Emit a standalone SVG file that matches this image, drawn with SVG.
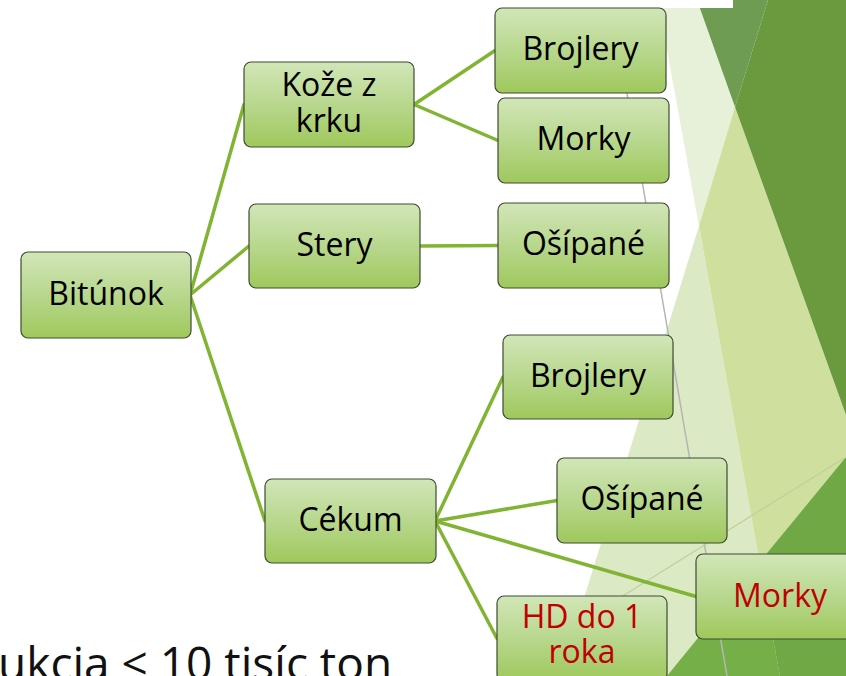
<svg xmlns="http://www.w3.org/2000/svg" width="846" height="676" viewBox="0 0 846 676">
<defs>
<linearGradient id="ng" x1="0" y1="0" x2="0" y2="1">
<stop offset="0" stop-color="#d2e6b8"/>
<stop offset="0.5" stop-color="#b8d78e"/>
<stop offset="1" stop-color="#9fc85c"/>
</linearGradient>
</defs>
<style>
.node rect{fill:url(#ng);stroke:#3d4c30;stroke-width:1.2}
.node text{font-family:"Open Sans","DejaVu Sans",sans-serif;font-size:32px;text-anchor:middle;fill:#000}
.node text.red{fill:#c00000}
#connectors line{stroke:#80b432;stroke-width:3.5;stroke-linecap:round}
</style>
<rect width="846" height="676" fill="#ffffff"/>
<g id="background">
<polygon points="658,0 697,0 735,107 699,226" fill="#e7f0d9"/>
<polygon points="699,226 560,676 780,676" fill="#dce9c5"/>
<polygon points="735,107 699,226 780,676 846,676 846,415" fill="#cfe09e"/>
<polygon points="697,0 768,0 735,107" fill="#6d9c52"/>
<polygon points="768,0 846,0 846,415 735,107" fill="#6a993e"/>
<polygon points="759,563 667,676 780,676" fill="#75af48"/>
<polygon points="759,563 846,457 846,676 780,676" fill="#70a845"/>
<line x1="611" y1="0" x2="727" y2="676" stroke="#b5b5b5" stroke-width="1.5"/>
<line x1="846" y1="457" x2="560" y2="635" stroke="#bfd09c" stroke-width="1.3"/>
<rect x="0" y="0" width="733" height="8" fill="#ffffff"/>
</g>
<text x="-2" y="680" font-family="'Open Sans','DejaVu Sans',sans-serif" font-size="46" fill="#111">ukcia &lt; 10 tisíc ton</text>
<g id="connectors">
<line x1="190" y1="295" x2="244" y2="104.5"/>
<line x1="190" y1="295" x2="249" y2="246"/>
<line x1="190" y1="295" x2="265" y2="521"/>
<line x1="414" y1="104.5" x2="495" y2="50.5"/>
<line x1="414" y1="104.5" x2="498" y2="140.5"/>
<line x1="420" y1="246" x2="498" y2="245.5"/>
<line x1="435" y1="521" x2="503" y2="377"/>
<line x1="435" y1="521" x2="557" y2="500.5"/>
<line x1="435" y1="521" x2="696" y2="596.5"/>
<line x1="435" y1="521" x2="497" y2="638.5"/>
</g>
<g id="bitunok" class="node"><rect x="21" y="252" width="170" height="86" rx="7"/><text x="106" y="304.5">Bitúnok</text></g>
<g id="koze" class="node"><rect x="244" y="62" width="170" height="85" rx="7"/><text x="329" y="96">Kože z</text><text x="329" y="132">krku</text></g>
<g id="stery" class="node"><rect x="249" y="204" width="171" height="84" rx="7"/><text x="334.5" y="255.5">Stery</text></g>
<g id="cekum" class="node"><rect x="265" y="479" width="171" height="84" rx="7"/><text x="350.5" y="530.5">Cékum</text></g>
<g id="brojlery1" class="node"><rect x="495" y="8" width="171" height="85" rx="7"/><text x="580.5" y="60">Brojlery</text></g>
<g id="morky1" class="node"><rect x="498" y="98" width="171" height="85" rx="7"/><text x="583.5" y="150">Morky</text></g>
<g id="osipane1" class="node"><rect x="498" y="203" width="171" height="85" rx="7"/><text x="583.5" y="255">Ošípané</text></g>
<g id="brojlery2" class="node"><rect x="503" y="335" width="170" height="84" rx="7"/><text x="588" y="386.5">Brojlery</text></g>
<g id="osipane2" class="node"><rect x="557" y="458" width="170" height="85" rx="7"/><text x="642" y="510">Ošípané</text></g>
<g id="morky2" class="node"><rect x="696" y="554" width="170" height="85" rx="7"/><text class="red" x="780" y="606.5">Morky</text></g>
<g id="hd" class="node"><rect x="497" y="596" width="170" height="85" rx="7"/><text class="red" x="582" y="628">HD do 1</text><text class="red" x="582" y="663">roka</text></g>
</svg>
